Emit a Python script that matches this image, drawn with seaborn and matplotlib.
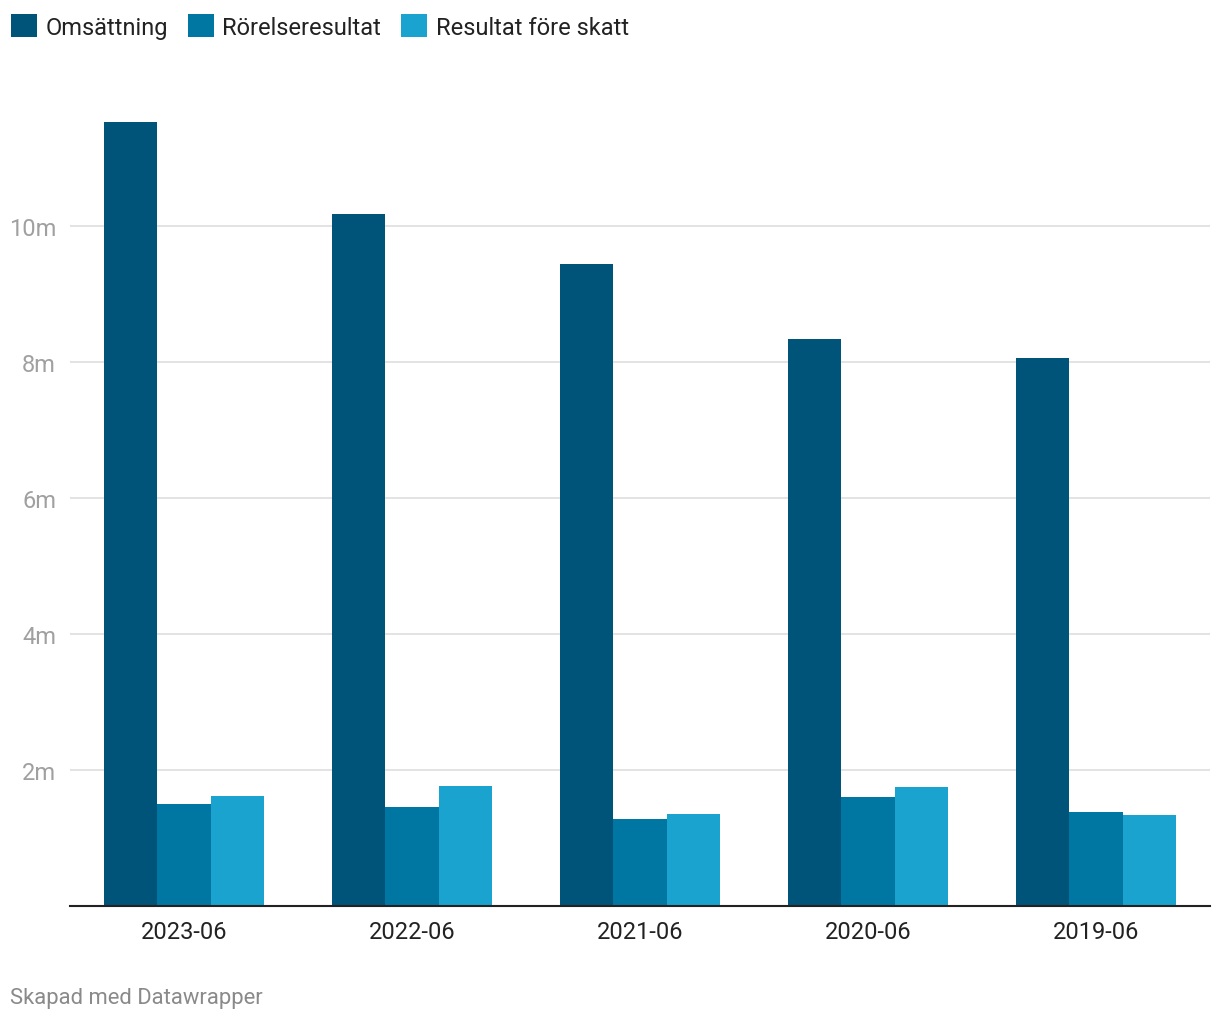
import matplotlib
matplotlib.use("Agg")
import matplotlib.pyplot as plt
import seaborn as sns
import pandas as pd

periods = ["2023-06", "2022-06", "2021-06", "2020-06", "2019-06"]
series_names = ["Omsättning", "Rörelseresultat", "Resultat före skatt"]
omsattning = [11.53, 10.18, 9.44, 8.34, 8.06]
rorelseresultat = [1.50, 1.46, 1.28, 1.60, 1.38]
resultat_fore_skatt = [1.62, 1.76, 1.35, 1.75, 1.34]
colors = ["#00547a", "#0077a3", "#1aa3cf"]
yticks = [2, 4, 6, 8, 10]

rows = []
for name, vals in zip(series_names, [omsattning, rorelseresultat, resultat_fore_skatt]):
    for p, v in zip(periods, vals):
        rows.append({"period": p, "serie": name, "value": v})
df = pd.DataFrame(rows)

sns.set_theme(style="white")
plt.rcParams["font.family"] = ["Roboto", "DejaVu Sans"]

W, H = 1220, 1020
fig = plt.figure(figsize=(W / 100, H / 100), dpi=100)
ax_left, ax_right = 70, 1210
ax_bottom = 907
ax_top = 102
ax = fig.add_axes([ax_left / W, 1 - ax_bottom / H, (ax_right - ax_left) / W, (ax_bottom - ax_top) / H])

sns.barplot(data=df, x="period", y="value", hue="serie", order=periods,
            hue_order=series_names, palette=colors, width=0.7, gap=0,
            saturation=1, ax=ax, linewidth=0, edgecolor="none")

ymax = (ax_bottom - ax_top) / 68.0
ax.set_ylim(0, ymax)
ax.set_xlim(-0.5, 4.5)
ax.set_yticks(yticks)
ax.set_yticklabels([f"{t}m" for t in yticks])
ax.set_xlabel("")
ax.set_ylabel("")
for sp in ["top", "right", "left"]:
    ax.spines[sp].set_visible(False)
ax.spines["bottom"].set_color("#222222")
ax.spines["bottom"].set_linewidth(1.5)
ax.grid(axis="y", color="#e3e3e3", linewidth=1.4)
ax.set_axisbelow(True)
ax.tick_params(axis="y", length=0, pad=10, labelsize=17, labelcolor="#a0a0a0")
ax.tick_params(axis="x", length=0, pad=10, labelsize=17, labelcolor="#222222")

sns.move_legend(ax, "upper left", bbox_to_anchor=(2 / W, 1 - 6 / H),
                bbox_transform=fig.transFigure, ncol=3, frameon=False,
                title=None, fontsize=17, handlelength=1.1, handleheight=1.1,
                handletextpad=0.35, columnspacing=0.85, borderaxespad=0)
for t in ax.get_legend().get_texts():
    t.set_color("#222222")

fig.text(10 / W, 1 - 999 / H, "Skapad med Datawrapper", fontsize=15.8,
         color="#8a8a8a", va="center", ha="left")

fig.savefig("out.png", dpi=100, facecolor="white")
